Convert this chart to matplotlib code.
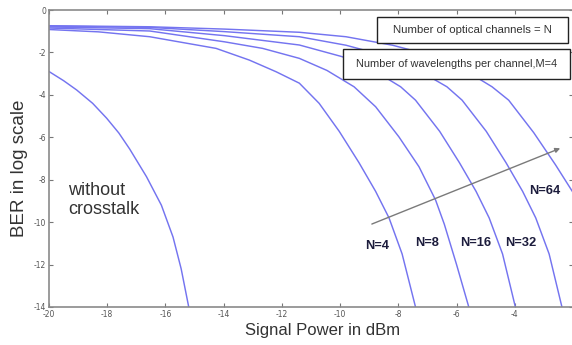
import matplotlib
matplotlib.use("Agg")
import matplotlib.pyplot as plt
from matplotlib.patches import Rectangle

# ---- data ----
p_nox = [-20, -19.5, -19.05, -18.5, -18.02, -17.6, -17.23, -16.65, -16.14, -15.74, -15.46, -15.2]
b_nox = [-2.9, -3.33, -3.77, -4.4, -5.1, -5.8, -6.55, -7.86, -9.2, -10.7, -12.2, -14.0]

p_n4 = [-20, -18.3, -16.54, -14.26, -13.12, -12.2, -11.4, -10.72, -10.03, -9.35, -8.78, -8.32, -7.87, -7.41]
b_n4 = [-0.92, -1.03, -1.26, -1.81, -2.36, -2.91, -3.45, -4.4, -5.72, -7.2, -8.55, -9.8, -11.5, -14.0]

p_n8 = [-20, -16.54, -13.97, -12.66, -11.4, -10.45, -9.52, -8.78, -7.98, -7.29, -6.72, -6.42, -6.0, -5.58]
b_n8 = [-0.85, -0.99, -1.50, -1.81, -2.28, -2.85, -3.62, -4.56, -5.98, -7.39, -8.96, -10.1, -12.0, -14.0]

p_n16 = [-20, -16.54, -13.97, -11.4, -9.93, -8.9, -7.92, -7.41, -6.58, -5.9, -5.33, -4.88, -4.42, -3.98]
b_n16 = [-0.80, -0.88, -1.21, -1.65, -2.2, -2.8, -3.62, -4.25, -5.72, -7.2, -8.55, -9.8, -11.5, -14.0]

p_n32 = [-20, -16.54, -13.97, -11.4, -9.8, -8.33, -7.3, -6.33, -5.81, -4.98, -4.3, -3.73, -3.28, -2.82, -2.38]
b_n32 = [-0.76, -0.82, -1.02, -1.26, -1.66, -2.2, -2.85, -3.62, -4.25, -5.72, -7.2, -8.55, -9.8, -11.5, -14.0]

p_n64 = [-20, -16.54, -13.97, -11.4, -9.8, -8.2, -6.7, -5.7, -4.78, -4.21, -3.35, -2.6, -2.0]
b_n64 = [-0.74, -0.79, -0.90, -1.05, -1.26, -1.66, -2.2, -2.85, -3.62, -4.25, -5.78, -7.3, -8.6]

n_labels = ["N=4", "N=8", "N=16", "N=32", "N=64"]
n_label_pos = [(-8.73, -11.13), (-7.02, -11.0), (-5.34, -11.0), (-3.8, -11.0), (-2.98, -8.54)]

x_ticks = [-20, -18, -16, -14, -12, -10, -8, -6, -4, -2]
x_tick_labels = ["-20", "-18", "-16", "-14", "-12", "-10", "-8", "-6", "-4", ""]
y_ticks = [0, -2, -4, -6, -8, -10, -12, -14]
y_tick_labels = ["0", "-2", "-4", "-6", "-8", "-10", "-12", "-14"]

# ---- figure ----
fig = plt.figure(figsize=(5.72, 3.45), dpi=100)
ax = fig.add_axes([49/572, 38/345, 524/572, 297/345])

line_color = "#7474f0"
for px, py in [(p_nox, b_nox), (p_n4, b_n4), (p_n8, b_n8), (p_n16, b_n16),
               (p_n32, b_n32), (p_n64, b_n64)]:
    ax.plot(px, py, color=line_color, lw=1.05, solid_joinstyle="round", zorder=2)

ax.set_xlim(-20, -2)
ax.set_ylim(-14, 0)
ax.set_xticks(x_ticks)
ax.set_yticks(y_ticks)
ax.set_xticklabels(x_tick_labels)
ax.set_yticklabels(y_tick_labels)
ax.tick_params(direction="in", length=3, width=0.8, color="#777777",
               labelsize=5.5, labelcolor="#555555", top=True, right=True, pad=2)
for s in ax.spines.values():
    s.set_color("#8a8a8a")
    s.set_linewidth(1.2)

txtfont = ["Liberation Sans", "DejaVu Sans"]

# boxes
box1 = Rectangle((-8.73, -1.56), 6.57, 1.23, facecolor="white", edgecolor="#222222",
                 lw=1.0, zorder=5)
box2 = Rectangle((-9.9, -3.25), 7.78, 1.41, facecolor="white", edgecolor="#222222",
                 lw=1.0, zorder=5)
ax.add_patch(box1)
ax.add_patch(box2)
ax.text(-5.45, -0.95, "Number of optical channels = N", ha="center", va="center",
        fontsize=8.2, color="#333333", family=txtfont, zorder=6)
ax.text(-6.0, -2.55, "Number of wavelengths per channel,M=4", ha="center", va="center",
        fontsize=7.9, color="#333333", family=txtfont, zorder=6)

# labels for N
for lab, (lx, ly) in zip(n_labels, n_label_pos):
    ax.text(lx, ly, lab, ha="center", va="center", fontsize=9.3, fontweight="bold",
            color="#1c1c3c", family=txtfont, zorder=6,
            bbox=dict(facecolor="white", edgecolor="none", pad=0.5))

ax.text(-19.35, -8.95, "without\ncrosstalk", ha="left", va="center", fontsize=13,
        color="#333333", family=txtfont, linespacing=1.1)

# arrow
ax.annotate("", xy=(-2.44, -6.52), xytext=(-8.91, -10.09),
            arrowprops=dict(arrowstyle="-|>", color="#7a7a7a", lw=1.0,
                            mutation_scale=7, shrinkA=0, shrinkB=0), zorder=4)

fig.text(20/572, 1 - 168/345, "BER in log scale", rotation=90, ha="center", va="center",
         fontsize=13.5, color="#333333", family=txtfont)
fig.text(323/572, 1 - 330/345, "Signal Power in dBm", ha="center", va="center",
         fontsize=12, color="#333333", family=txtfont)

fig.savefig("out.png", dpi=100)
